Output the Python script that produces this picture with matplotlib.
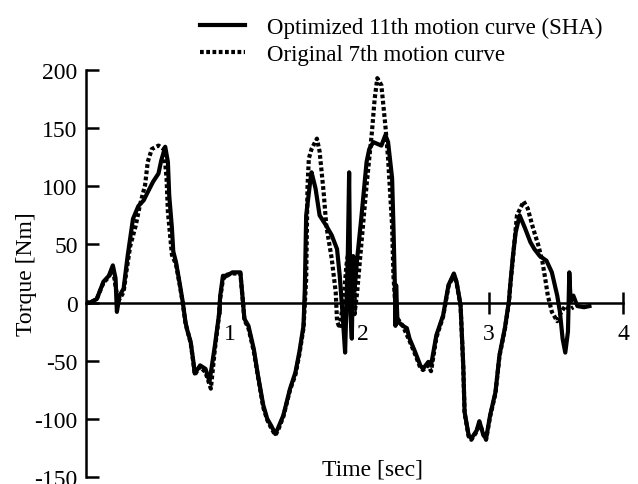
import matplotlib
matplotlib.use('Agg')
import matplotlib.pyplot as plt

plt.rcParams['font.family'] = 'Liberation Serif'
plt.rcParams['axes.unicode_minus'] = False

# optimized 11th motion curve (SHA)
t_opt = [0.00, 0.03, 0.08, 0.13, 0.17, 0.20, 0.22, 0.23, 0.25, 0.28, 0.31, 0.35, 0.39, 0.43,
         0.46, 0.50, 0.54, 0.56, 0.59, 0.61, 0.62, 0.64, 0.65, 0.67, 0.70, 0.72, 0.74, 0.75,
         0.78, 0.80, 0.81, 0.85, 0.89, 0.92, 0.96, 0.99, 1.00, 1.02, 1.05, 1.09, 1.15, 1.17,
         1.18, 1.21, 1.25, 1.28, 1.32, 1.35, 1.38, 1.41, 1.43, 1.47, 1.52, 1.56, 1.59, 1.62,
         1.63, 1.64, 1.67, 1.68, 1.71, 1.74, 1.79, 1.83, 1.87, 1.89, 1.91, 1.93, 1.95, 1.96,
         1.97, 1.98, 1.99, 2.00, 2.02, 2.05, 2.09, 2.11, 2.14, 2.20, 2.23, 2.25, 2.28, 2.29,
         2.30, 2.305, 2.31, 2.32, 2.36, 2.39, 2.41, 2.45, 2.49, 2.51, 2.55, 2.57, 2.61, 2.66,
         2.70, 2.74, 2.76, 2.79, 2.81, 2.82, 2.85, 2.87, 2.91, 2.93, 2.96, 2.98, 3.01, 3.05,
         3.08, 3.12, 3.15, 3.16, 3.18, 3.20, 3.23, 3.27, 3.31, 3.34, 3.38, 3.43, 3.47, 3.51,
         3.53, 3.55, 3.57, 3.59, 3.60, 3.61, 3.63, 3.66, 3.71, 3.75]
tq_opt = [0, 0, 3, 18, 23, 32, 21, -8, 6, 12, 40, 72, 83, 88,
          95, 104, 111, 122, 134, 121, 92, 64, 44, 35, 15, 1, -16, -22,
          -34, -51, -61, -54, -57, -68, -37, -11, 6, 23, 23, 26, 26, 0,
          -14, -20, -40, -62, -88, -100, -106, -113, -108, -97, -74, -60, -42, -20,
          12, 75, 104, 112, 98, 75, 66, 58, 46, 23, -8, -43, 40, 112,
          -10, -31, 40, 10, 38, 72, 121, 132, 138, 135, 144, 138, 107, 66,
          18, -20, 15, -16, -20, -22, -31, -42, -54, -57, -51, -54, -28, -11,
          15, 25, 18, -2, -54, -94, -114, -117, -110, -102, -114, -117, -97, -77,
          -45, -22, 1, 15, 40, 60, 75, 64, 52, 46, 40, 36, 26, 6,
          -8, -31, -43, -25, 26, 1, 6, -3, -4, -3]

# original 7th motion curve
t_orig = [0.00, 0.03, 0.08, 0.13, 0.17, 0.20, 0.22, 0.24, 0.28, 0.30, 0.33, 0.37, 0.40, 0.44,
          0.46, 0.49, 0.54, 0.58, 0.60, 0.61, 0.64, 0.67, 0.70, 0.72, 0.74, 0.78, 0.80, 0.81,
          0.85, 0.89, 0.93, 0.96, 0.99, 1.00, 1.02, 1.05, 1.09, 1.15, 1.17, 1.18, 1.21, 1.25,
          1.28, 1.32, 1.35, 1.38, 1.41, 1.43, 1.47, 1.52, 1.56, 1.59, 1.62, 1.64, 1.65, 1.66,
          1.68, 1.72, 1.74, 1.77, 1.79, 1.83, 1.86, 1.87, 1.89, 1.92, 1.94, 1.96, 1.98, 2.00,
          2.02, 2.05, 2.09, 2.13, 2.15, 2.17, 2.20, 2.23, 2.25, 2.28, 2.29, 2.31, 2.36, 2.41,
          2.45, 2.49, 2.51, 2.55, 2.57, 2.61, 2.66, 2.70, 2.74, 2.76, 2.79, 2.81, 2.82, 2.85,
          2.87, 2.91, 2.93, 2.96, 2.98, 3.01, 3.05, 3.08, 3.12, 3.15, 3.16, 3.18, 3.21, 3.26,
          3.29, 3.33, 3.37, 3.40, 3.42, 3.44, 3.47, 3.51, 3.54, 3.57, 3.60, 3.63]
tq_orig = [0, 0, 3, 17, 22, 30, 14, 1, 9, 26, 49, 66, 83, 101,
           121, 132, 135, 132, 107, 78, 41, 33, 14, 0, -17, -35, -52, -62,
           -55, -60, -74, -40, -12, 4, 20, 24, 25, 25, -1, -15, -22, -42,
           -63, -90, -101, -108, -114, -110, -98, -75, -62, -44, -22, 20, 100, 124,
           132, 141, 130, 95, 66, 38, 9, -16, -22, 5, 32, 49, 25, -10,
           9, 49, 101, 147, 175, 193, 187, 152, 124, 66, 23, -12, -20, -33,
           -44, -56, -58, -54, -59, -30, -12, 14, 24, 17, -3, -55, -95, -115,
           -118, -111, -103, -113, -118, -98, -78, -46, -23, 0, 14, 38, 75, 87,
           81, 64, 49, 35, 21, 6, -8, -16, -8, -3, -6, -4]

x_ticks = [1, 2, 3, 4]
y_ticks = [-150, -100, -50, 0, 50, 100, 150, 200]
y_labels = ['-150', '-100', '-50', '0', '50', '100', '150', '200']

FS = 17

fig = plt.figure(figsize=(6.38, 4.85), dpi=100)
ax = fig.add_axes([0.1348, 0.0144, 0.8417, 0.8392])

ax.plot(t_opt, tq_opt, color='black', lw=3.0, solid_joinstyle='round',
        label='Optimized 11th motion curve (SHA)')
ax.plot(t_orig, tq_orig, color='black', lw=3.0, linestyle=(0, (0.9, 0.6)),
        label='Original 7th motion curve')

ax.set_xlim(0, 4)
ax.set_ylim(-150, 200)

ax.spines['top'].set_visible(False)
ax.spines['right'].set_visible(False)
ax.spines['bottom'].set_position(('data', 0))
ax.spines['left'].set_linewidth(1.8)
ax.spines['bottom'].set_linewidth(1.8)

ax.set_yticks(y_ticks)
ax.set_yticklabels(y_labels, fontsize=FS)
ax.tick_params(axis='y', direction='in', length=9, width=1.8, pad=6)

ax.set_xticks(x_ticks)
ax.set_xticklabels([])
ax.tick_params(axis='x', direction='inout', length=16, width=1.8)
# tick labels for 1 and 2 sit a bit to the right of their ticks
x_shift = [7, 6, 0, 0]
for x, dx in zip(x_ticks, x_shift):
    ax.annotate(str(x), (x, 0), xytext=(dx, -22), textcoords='offset points',
                ha='center', va='center', fontsize=FS)

ax.text(0.533, 0.02, 'Time [sec]', transform=ax.transAxes, ha='center', va='center',
        fontsize=FS)
ax.set_ylabel('Torque [Nm]', fontsize=FS, labelpad=-2)

fig.legend(loc='upper left', bbox_to_anchor=(0.3027, 0.978), frameon=False, fontsize=16.5,
           handlelength=1.97, handletextpad=0.96, labelspacing=0.28, borderpad=0.3,
           borderaxespad=0)

fig.savefig('out.png', dpi=100)
